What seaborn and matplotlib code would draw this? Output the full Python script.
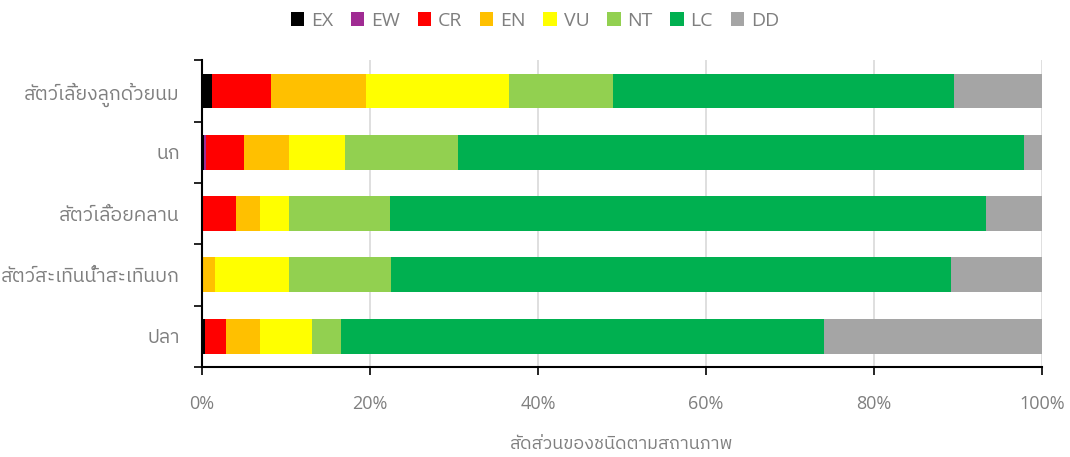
import numpy as np
import pandas as pd
import seaborn as sns
import matplotlib.pyplot as plt
from matplotlib import font_manager
from matplotlib.ft2font import FT2Font
from matplotlib.patches import Patch
from matplotlib.ticker import FixedLocator, FuncFormatter

# Data (percent of species per IUCN status)
groups = ["สัตว์เลี้ยงลูกด้วยนม", "นก", "สัตว์เลื้อยคลาน", "สัตว์สะเทินน้ำสะเทินบก", "ปลา"]
statuses = ["EX", "EW", "CR", "EN", "VU", "NT", "LC", "DD"]
ex = [1.2, 0.2, 0.0, 0.0, 0.3]
ew = [0.0, 0.3, 0.1, 0.0, 0.1]
cr = [7.0, 4.5, 4.0, 0.0, 2.5]
en = [11.3, 5.3, 2.8, 1.5, 4.0]
vu = [17.1, 6.7, 3.5, 8.8, 6.2]
nt = [12.3, 13.5, 12.0, 12.2, 3.5]
lc = [40.6, 67.4, 70.9, 66.7, 57.4]
dd = [10.5, 2.1, 6.7, 10.8, 26.0]
x_label = "สัดส่วนของชนิดตามสถานภาพ"

colors = ["#000000", "#A02B93", "#FF0000", "#FFC000",
          "#FFFF00", "#92D050", "#00B050", "#A5A5A5"]
text_grey = "#7f7f7f"


def find_thai_font():
    """Return the name of an installed font that has Thai glyphs, if any."""
    found = []
    for f in font_manager.fontManager.ttflist:
        try:
            if 0x0E2A in FT2Font(f.fname).get_charmap():
                found.append(f.name)
        except Exception:
            pass
    # prefer sans families
    found.sort(key=lambda n: (0 if "Sans" in n else 1, n))
    return found[0] if found else None


df = pd.DataFrame(dict(zip(statuses, [ex, ew, cr, en, vu, nt, lc, dd])), index=groups)
cum = df.cumsum(axis=1)

sns.set_style("white")
thai = find_thai_font()
families = ["Open Sans"] + ([thai] if thai else []) + ["DejaVu Sans"]
plt.rcParams["font.family"] = families

fig = plt.figure(figsize=(10.7, 4.57), dpi=100)
ax = fig.add_axes([0.1888, 0.197, 0.7850, 0.671])

# Stacked bars: draw cumulative totals from the last status back to the first
for status, color in reversed(list(zip(statuses, colors))):
    sns.barplot(x=cum[status].values, y=groups, orient="h", color=color,
                saturation=1, width=0.57, linewidth=0, ax=ax, zorder=2)

ax.set_xlim(0, 100)
ax.xaxis.set_major_locator(FixedLocator([0, 20, 40, 60, 80, 100]))
ax.xaxis.set_major_formatter(FuncFormatter(lambda v, p: f"{v:.0f}%"))
ax.grid(axis="x", color="#d9d9d9", linewidth=1.2, zorder=0)
ax.grid(axis="y", visible=False)
ax.set_axisbelow(True)

ax.set_yticks(np.arange(-0.5, len(groups), 1), minor=True)
ax.tick_params(axis="y", which="major", length=0, pad=16,
               labelsize=14, labelcolor=text_grey)
ax.tick_params(axis="y", which="minor", length=6, width=1.2,
               direction="out", color="black", left=True)
ax.tick_params(axis="x", which="major", length=6, width=1.2, pad=14,
               direction="out", color="black", bottom=True,
               labelsize=13, labelcolor=text_grey)

for side in ["top", "right"]:
    ax.spines[side].set_visible(False)
for side in ["left", "bottom"]:
    ax.spines[side].set_color("black")
    ax.spines[side].set_linewidth(1.5)

ax.set_ylabel("")
ax.set_xlabel(x_label, fontsize=13, color=text_grey, labelpad=16)

handles = [Patch(facecolor=c, edgecolor="none", label=s) for s, c in zip(statuses, colors)]
fig.legend(handles=handles, loc="center", bbox_to_anchor=(0.5, 0.955), ncol=8,
           frameon=False, fontsize=14, labelcolor=text_grey,
           handlelength=0.7, handleheight=0.7, handletextpad=0.35, columnspacing=0.9)

fig.savefig("out.png", dpi=100)
